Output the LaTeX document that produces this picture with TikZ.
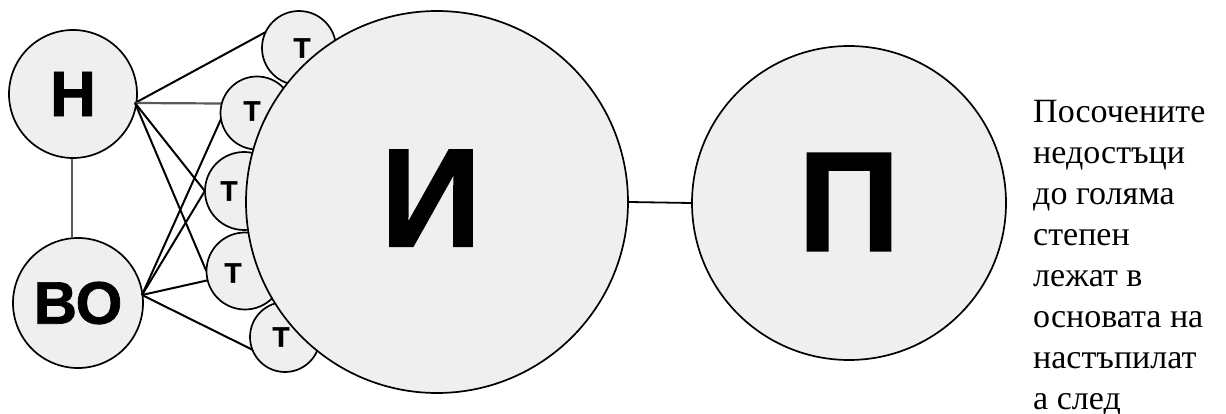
\documentclass[tikz,border=0pt]{standalone}
\usepackage{fontspec}
\setmainfont{Liberation Serif}
\newfontfamily\heavy[FakeBold=1.2]{Liberation Sans Bold}
\definecolor{cfill}{HTML}{EFEFEF}
\tikzset{
  circ/.style={circle, draw=black, line width=1.7pt, fill=cfill, inner sep=0pt},
  tcirc/.style={circ},
  tlab/.style={font=\heavy\fontsize{28}{28}\selectfont, inner sep=0pt},
  conn/.style={line width=2pt, black},
  gconn/.style={line width=2.2pt, black!65},
}
\begin{document}
\begin{tikzpicture}[x=1pt,y=-1pt]
\useasboundingbox (0,0) rectangle (1226,414);
\node[circ, minimum size=128pt, font=\heavy\fontsize{64}{64}\selectfont] (H) at (73,94) {Н};
\node[circ, minimum size=130pt, font=\heavy\fontsize{60}{60}\selectfont] (BO) at (78,303) {ВО};
\coordinate (hp) at (135,103);
\coordinate (bp) at (142,295);
% T circle placeholders (for anchors)
\path (299,48) node[circle, minimum size=74pt, inner sep=0pt] (T1) {};
\path (257,113) node[circle, minimum size=73pt, inner sep=0pt] (T2) {};
\path (244,191) node[circle, minimum size=78pt, inner sep=0pt] (T3) {};
\path (245,271) node[circle, minimum size=77pt, inner sep=0pt] (T4) {};
\path (285,337) node[circle, minimum size=70pt, inner sep=0pt] (T5) {};
% connectors
\draw[gconn] (H.south -| 72,0) -- (BO.north -| 72,0);
\draw[conn] (hp) -- (T1.155);
\draw[gconn] (hp) -- (T2.165);
\draw[conn] (hp) -- (T3.west);
\draw[conn] (hp) -- (T4.west);
\draw[conn] (bp) -- (T2.190);
\draw[conn] (bp) -- (T3.west);
\draw[conn] (bp) -- (T4.194);
\draw[conn] (bp) -- (T5.201);
% T circles drawn
\node[tcirc, minimum size=74pt] (t1) at (T1) {};
\node[tcirc, minimum size=73pt] (t2) at (T2) {};
\node[tcirc, minimum size=78pt] (t3) at (T3) {};
\node[tcirc, minimum size=77pt] (t4) at (T4) {};
\node[tcirc, minimum size=70pt] (t5) at (T5) {};
\node[tlab] (l1) at (302,48) {Т};
\node[tlab] (l2) at (252,111) {Т};
\node[tlab] (l3) at (229,191) {Т};
\node[tlab] (l4) at (233,273) {Т};
\node[tlab] (l5) at (281,337) {Т};
% big circles
\node[circ, minimum size=382pt] (I) at (437,202) {};
\node[font=\heavy\fontsize{140}{140}\selectfont, inner sep=0pt] (Il) at (431,198) {И};
\node[circ, minimum size=314pt] (P) at (849,203) {};
\node[font=\heavy\fontsize{142}{142}\selectfont, inner sep=0pt] (Pl) at (849,202) {П};
\draw[conn, line width=1.8pt] (I.east) -- (P.west);
% side text
\node[anchor=base west, inner sep=0pt, align=left, font=\fontsize{34}{41}\selectfont] (txt) at (1033,409)
  {Посочените\\недостъци\\до голяма\\степен\\лежат в\\основата на\\настъпилат\\а след};
\end{tikzpicture}
\end{document}
